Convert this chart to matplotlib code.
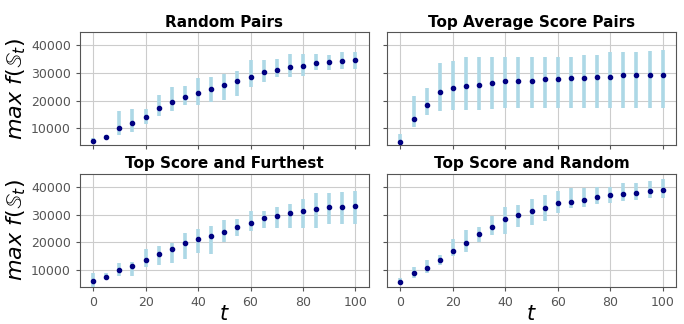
import numpy as np
import matplotlib
matplotlib.use('Agg')
import matplotlib.pyplot as plt

# --- data
t = np.arange(0, 101, 5)

titles = ['Random Pairs', 'Top Average Score Pairs',
          'Top Score and Furthest', 'Top Score and Random']

random_mean = [5420, 6860, 10240, 12050, 14000, 17470, 19400, 21330, 22650, 24340, 25780,
               27230, 28670, 30240, 31080, 32050, 32400, 33600, 34000, 34340, 34820]
random_lo = [4600, 6300, 7470, 8670, 11450, 14340, 16260, 18550, 18550, 19400, 20360,
             21570, 24940, 26750, 28670, 28670, 29040, 30960, 30960, 31330, 31330]
random_hi = [6700, 7600, 16140, 17000, 16900, 22170, 24820, 25400, 28200, 28550, 29520,
             30600, 34580, 34580, 35180, 36630, 36630, 36630, 36600, 37350, 37590]

avg_mean = [5140, 13250, 18550, 23130, 24580, 25420, 25780, 26500, 27230, 27230, 27230,
            27710, 27710, 28070, 28070, 28430, 28670, 29160, 29160, 29160, 29160]
avg_lo = [4800, 10480, 14700, 16140, 16500, 16750, 16750, 17110, 17470, 17470, 17470,
          17470, 17470, 17470, 17470, 17470, 17470, 17470, 17470, 17470, 17470]
avg_hi = [8070, 21690, 24580, 33610, 34340, 35780, 35780, 35780, 35780, 35780, 35780,
          35780, 35780, 35780, 36270, 36270, 37350, 37590, 37590, 37950, 38190]

far_mean = [6160, 7600, 9880, 11440, 13600, 15640, 17440, 19600, 21040, 22240, 23680,
            25600, 27040, 28600, 29320, 30520, 31360, 32080, 32800, 32800, 33160]
far_lo = [4000, 6640, 7840, 7840, 11200, 11800, 12640, 14080, 16000, 15760, 20200,
          22240, 24040, 25240, 25240, 25240, 25240, 25240, 26560, 26560, 26560]
far_hi = [9040, 8800, 12640, 13000, 17560, 18640, 19600, 23200, 24880, 25720, 28000,
          28240, 31240, 31240, 32800, 33640, 35440, 37840, 37840, 38200, 38560]

rand_mean = [5800, 8800, 10720, 13600, 16960, 19600, 22960, 25600, 28240, 29680, 31240,
             32200, 34240, 34600, 35320, 36400, 36880, 37480, 37840, 38320, 38680]
rand_lo = [5200, 7000, 8800, 11800, 15040, 16600, 20200, 22480, 22840, 25600, 26080,
           27760, 30640, 32200, 32800, 33760, 34240, 34840, 35200, 36040, 36040]
rand_hi = [7000, 11200, 13600, 15400, 21040, 24400, 25360, 29440, 32560, 33400, 35680,
           37000, 38440, 39400, 39400, 40000, 40000, 41440, 41440, 42160, 42640]

series = [(random_mean, random_lo, random_hi),
          (avg_mean, avg_lo, avg_hi),
          (far_mean, far_lo, far_hi),
          (rand_mean, rand_lo, rand_hi)]

fig, axes = plt.subplots(2, 2, figsize=(6.84, 3.24), dpi=100, sharex=True, sharey=True)
fig.subplots_adjust(left=0.117, right=0.988, top=0.901, bottom=0.114, wspace=0.065, hspace=0.25)

for ax, title, (m, lo, hi) in zip(axes.flat, titles, series):
    m = np.array(m)
    err = [m - np.array(lo), np.array(hi) - m]
    ax.errorbar(t, m, yerr=err, fmt='o', color='navy', ecolor='lightblue',
                elinewidth=2.6, markersize=3, capsize=0, zorder=3)
    ax.set_title(title, fontsize=11, fontweight='bold', pad=4)
    ax.grid(True, color='#cccccc', linewidth=0.8)
    ax.tick_params(labelsize=9, colors='#555555', length=3)
    for s in ax.spines.values():
        s.set_color('#555555')

axes[0, 0].set_xlim(-5, 105)
axes[0, 0].set_ylim(3900, 44700)
axes[0, 0].set_yticks([10000, 20000, 30000, 40000])
axes[0, 0].set_xticks([0, 20, 40, 60, 80, 100])

for ax in axes[:, 0]:
    ax.set_ylabel(r'$max\ f(\mathbb{S}_t)$', fontsize=16, labelpad=2)
for ax in axes[1, :]:
    ax.set_xlabel(r'$t$', fontsize=15, labelpad=-4)

plt.savefig('out.png', dpi=100)
